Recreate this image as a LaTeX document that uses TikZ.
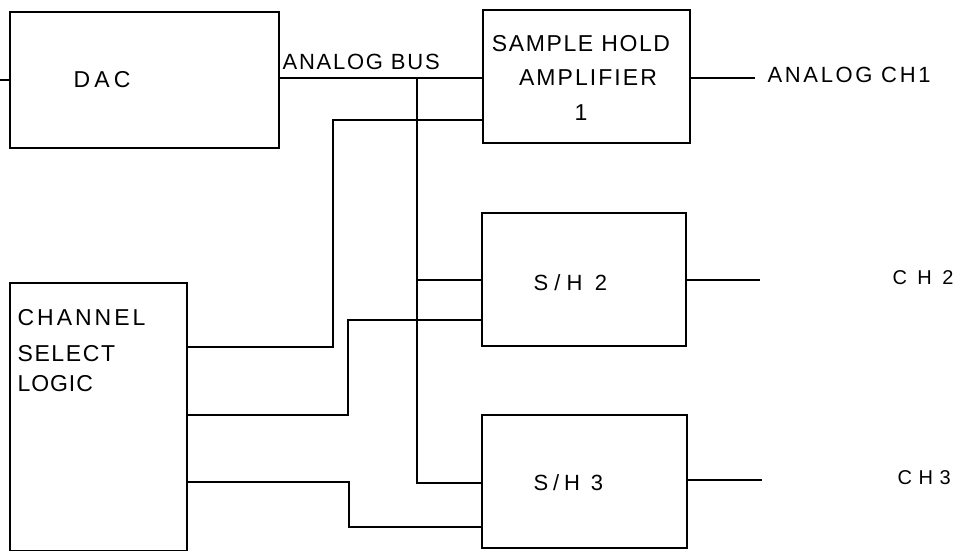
\documentclass[tikz,border=0pt]{standalone}
\usepackage{fontspec}
\setmainfont{Liberation Sans}
\newcommand{\myfs}[1]{\fontsize{#1}{#1}\selectfont}
\newcommand{\myls}[1]{\addfontfeatures{LetterSpace=#1}}
\begin{document}
\begin{tikzpicture}[x=1pt,y=-1pt,line width=1.2pt,
  box/.style={draw,rectangle,inner sep=0pt},
  txt/.style={inner sep=0pt,anchor=base west}]
\useasboundingbox (0,0) rectangle (971,551);
% boxes
\node[box,minimum width=269pt,minimum height=136pt] (dac) at (144.5,80) {};
\node[box,minimum width=207pt,minimum height=133pt] (sh1) at (586.5,76.5) {};
\node[box,minimum width=177pt,minimum height=268pt] (csl) at (98.5,417) {};
\node[box,minimum width=204pt,minimum height=133pt] (sh2) at (584,279.5) {};
\node[box,minimum width=205pt,minimum height=133pt] (sh3) at (584.5,481.5) {};
% texts
\node[txt,font=\myfs{23}\myls{18}] (dact) at (73,87) {DAC};
\node[txt,font=\myfs{22}\myls{8}] (bust) at (282,70) {ANALOG BUS};
\node[inner sep=0pt,anchor=base,font=\myfs{23}\myls{7}] (sh1a) at (581,52) {SAMPLE HOLD};
\node[inner sep=0pt,anchor=base,font=\myfs{23}\myls{9}] (sh1b) at (588,85) {AMPLIFIER};
\node[inner sep=0pt,anchor=base,font=\myfs{23}] (sh1c) at (581,120) {1};
\node[txt,font=\myfs{22}\myls{12}] (ch1t) at (767,82) {ANALOG CH1};
\node[txt,font=\myfs{23}\myls{13}] (csla) at (17,325) {CHANNEL};
\node[txt,font=\myfs{23}\myls{7}] (cslb) at (17,361) {SELECT};
\node[txt,font=\myfs{23}\myls{4}] (cslc) at (17,391) {LOGIC};
\node[txt,font=\myfs{22}\myls{28}] (sh2t) at (533,290) {S/H 2};
\node[txt,font=\myfs{22}\myls{22}] (sh3t) at (533,490) {S/H 3};
\node[txt,font=\myfs{20}\myls{52}] (ch2t) at (892,284) {CH2};
\node[txt,font=\myfs{20}\myls{33}] (ch3t) at (897,484) {CH3};
% coordinates
\coordinate (in) at (0,80);
\coordinate (bt) at (417,78);
\coordinate (b2) at (417,280);
\coordinate (b3) at (417,483);
\coordinate (k1) at (333,120);
\coordinate (k2) at (348,320);
\coordinate (k3) at (349,527);
\coordinate (o1) at (755,78);
\coordinate (o2) at (760,280);
\coordinate (o3) at (762,480);
% connectors
\draw[line width=2.5pt] (in) -- (dac.west |- in);
\draw (dac.east |- bt) -- (sh1.west |- bt);
\draw (bt) -- (b3) -- (sh3.west |- b3);
\draw (b2) -- (sh2.west |- b2);
\draw (csl.east |- 0,347) -| (k1) -- (sh1.west |- k1);
\draw (csl.east |- 0,415) -| (k2) -- (sh2.west |- k2);
\draw (csl.east |- 0,482) -| (k3) -- (sh3.west |- k3);
\draw (sh1.east |- o1) -- (o1);
\draw (sh2.east |- o2) -- (o2);
\draw (sh3.east |- o3) -- (o3);
\end{tikzpicture}
\end{document}
